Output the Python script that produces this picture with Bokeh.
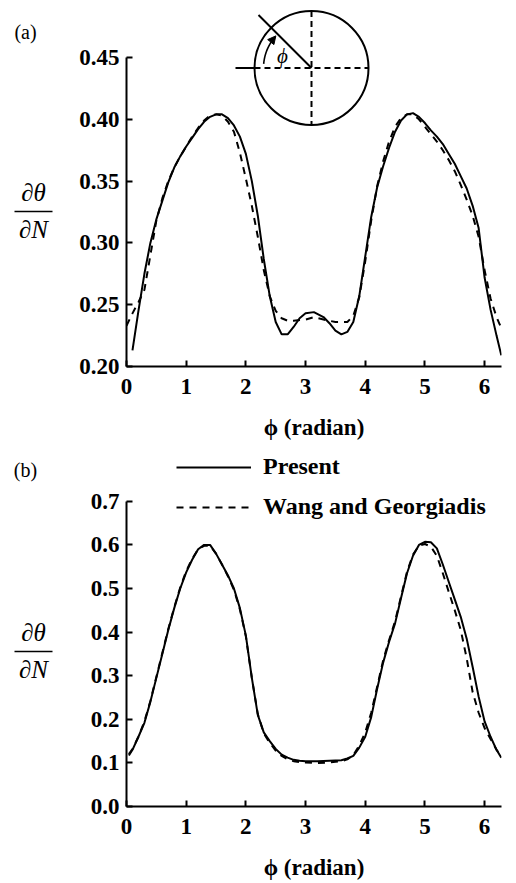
import numpy as np
from bokeh.plotting import figure
from bokeh.models import Range1d, FixedTicker, Label, Arrow, NormalHead, Legend, LegendItem
from bokeh.layouts import column, row
from bokeh.embed import file_html
from bokeh.resources import INLINE
from bokeh.core.properties import value

# ---------------- data ----------------
phi_present_a = [0.10, 0.20, 0.30, 0.40, 0.50, 0.60, 0.70, 0.80, 0.90, 1.00, 1.10, 1.20, 1.30, 1.40,
                 1.50, 1.60, 1.70, 1.80, 1.90, 2.00, 2.10, 2.20, 2.30, 2.40, 2.50, 2.60, 2.70, 2.80,
                 2.90, 3.00, 3.14, 3.30, 3.40, 3.50, 3.60, 3.70, 3.80, 3.90, 4.00, 4.10, 4.20, 4.30,
                 4.40, 4.50, 4.60, 4.70, 4.80, 4.90, 5.00, 5.10, 5.20, 5.30, 5.40, 5.50, 5.60, 5.70,
                 5.80, 5.90, 6.00, 6.10, 6.20, 6.28]
present_a = [0.213, 0.245, 0.275, 0.300, 0.319, 0.334, 0.349, 0.361, 0.370, 0.378, 0.385, 0.392, 0.398, 0.402,
             0.404, 0.404, 0.401, 0.395, 0.386, 0.372, 0.350, 0.322, 0.287, 0.257, 0.236, 0.226, 0.226, 0.232,
             0.239, 0.243, 0.244, 0.240, 0.235, 0.229, 0.226, 0.228, 0.236, 0.257, 0.289, 0.321, 0.345, 0.362,
             0.377, 0.390, 0.399, 0.404, 0.405, 0.402, 0.397, 0.391, 0.386, 0.380, 0.372, 0.364, 0.354, 0.344,
             0.330, 0.312, 0.272, 0.246, 0.225, 0.209]

phi_wang_a = [0.00, 0.10, 0.20, 0.30, 0.40, 0.50, 0.60, 0.70, 0.80, 0.90, 1.00, 1.10, 1.20, 1.30, 1.40,
              1.50, 1.60, 1.70, 1.80, 1.90, 2.00, 2.10, 2.20, 2.30, 2.40, 2.50, 2.60, 2.70, 2.80, 3.00,
              3.14, 3.30, 3.50, 3.70, 3.80, 3.90, 4.00, 4.10, 4.20, 4.30, 4.40, 4.50, 4.60, 4.70, 4.80,
              4.90, 5.00, 5.10, 5.20, 5.30, 5.40, 5.50, 5.60, 5.70, 5.80, 5.90, 6.00, 6.10, 6.20, 6.28]
wang_a = [0.233, 0.243, 0.252, 0.262, 0.290, 0.318, 0.336, 0.350, 0.361, 0.370, 0.378, 0.386, 0.393, 0.399, 0.403,
          0.404, 0.403, 0.398, 0.390, 0.373, 0.352, 0.330, 0.305, 0.278, 0.257, 0.245, 0.239, 0.237, 0.237, 0.238,
          0.240, 0.238, 0.236, 0.236, 0.241, 0.256, 0.285, 0.318, 0.346, 0.366, 0.382, 0.394, 0.401, 0.404, 0.404,
          0.400, 0.394, 0.388, 0.382, 0.375, 0.367, 0.358, 0.347, 0.335, 0.322, 0.305, 0.278, 0.255, 0.240, 0.231]

phi_b = [0.04, 0.10, 0.20, 0.30, 0.40, 0.50, 0.60, 0.70, 0.80, 0.90, 1.00, 1.10, 1.20, 1.30, 1.40,
         1.50, 1.60, 1.70, 1.80, 1.90, 2.00, 2.10, 2.20, 2.30, 2.40, 2.50, 2.60, 2.70, 2.80, 2.90,
         3.00, 3.20, 3.40, 3.60, 3.70, 3.80, 3.90, 4.00, 4.10, 4.20, 4.30, 4.40, 4.50, 4.60, 4.70,
         4.80, 4.90, 5.00, 5.10, 5.20, 5.30, 5.40, 5.50, 5.60, 5.70, 5.80, 5.90, 6.00, 6.10, 6.20, 6.28]
present_b = [0.117, 0.130, 0.160, 0.192, 0.240, 0.295, 0.350, 0.405, 0.455, 0.500, 0.537, 0.566, 0.590, 0.600, 0.600,
             0.580, 0.555, 0.530, 0.500, 0.455, 0.392, 0.295, 0.210, 0.170, 0.150, 0.132, 0.119, 0.112, 0.107, 0.105,
             0.104, 0.104, 0.105, 0.106, 0.110, 0.116, 0.135, 0.160, 0.205, 0.270, 0.330, 0.378, 0.420, 0.478, 0.535,
             0.575, 0.600, 0.607, 0.606, 0.592, 0.555, 0.515, 0.475, 0.435, 0.385, 0.320, 0.252, 0.195, 0.160, 0.130, 0.112]
wang_b = [0.120, 0.132, 0.160, 0.195, 0.242, 0.297, 0.352, 0.407, 0.457, 0.502, 0.540, 0.568, 0.590, 0.598, 0.598,
          0.580, 0.555, 0.528, 0.497, 0.452, 0.390, 0.295, 0.212, 0.168, 0.146, 0.128, 0.116, 0.108, 0.104, 0.102,
          0.101, 0.100, 0.101, 0.104, 0.108, 0.118, 0.140, 0.170, 0.215, 0.275, 0.335, 0.382, 0.425, 0.482, 0.538,
          0.578, 0.598, 0.602, 0.596, 0.575, 0.535, 0.492, 0.450, 0.405, 0.340, 0.262, 0.215, 0.180, 0.155, 0.130, 0.115]

x_ticks = [0, 1, 2, 3, 4, 5, 6]
a_y_ticks = [0.20, 0.25, 0.30, 0.35, 0.40, 0.45]
a_y_labels = ["0.20", "0.25", "0.30", "0.35", "0.40", "0.45"]
b_y_ticks = [0.0, 0.1, 0.2, 0.3, 0.4, 0.5, 0.6, 0.7]
b_y_labels = ["0.0", "0.1", "0.2", "0.3", "0.4", "0.5", "0.6", "0.7"]
series_names = ["Present", "Wang and Georgiadis"]
panel_tags = ["(a)", "(b)"]
x_title = "\u03d5 (radian)"
y_title_top = "\u2202\u03b8"
y_title_bottom = "\u2202N"

# ---------------- layout (page pixels) ----------------
SERIF = "Liberation Serif"
SIDE_W = 60                     # small text-only figure on the left of each panel
MAIN_W = 450
BL = 66                         # frame left of each panel at page x = 126
FRAME_W = 375
BR = MAIN_W - BL - FRAME_W
TWO_PI = 2 * np.pi
XS = FRAME_W / TWO_PI           # px per radian
FRAME_LEFT_PAGE = SIDE_W + BL

A_H, A_TOP, A_BOT = 445, 4, 79
A_FH = A_H - A_TOP - A_BOT
A_YS = 1236.0                   # px per unit (panel a)
B_H, B_TOP, B_BOT = 437, 5, 76
B_FH = B_H - B_TOP - B_BOT
B_YS = 436.0                    # px per unit (panel b)
DASH = "7 6"


def make_fig(h, top, bot, y0, ys, fh, yticks, ylabels, ybounds):
    p = figure(width=MAIN_W, height=h, output_backend="svg", toolbar_location=None,
               x_range=Range1d(0, TWO_PI), y_range=Range1d(y0, y0 + fh / ys),
               min_border_left=BL, min_border_right=BR, min_border_top=top, min_border_bottom=bot)
    p.outline_line_color = None
    p.grid.visible = False
    for ax in (p.xaxis[0], p.yaxis[0]):
        ax.axis_line_width = 2
        ax.axis_line_color = "black"
        ax.major_tick_in = 6
        ax.major_tick_out = 0
        ax.major_tick_line_width = 2
        ax.major_tick_line_color = "black"
        ax.minor_tick_in = 0
        ax.minor_tick_out = 0
        ax.major_label_text_font = SERIF
        ax.major_label_text_font_size = "23px"
        ax.major_label_text_font_style = "bold"
        ax.major_label_text_color = "black"
    p.xaxis.ticker = FixedTicker(ticks=x_ticks)
    p.xaxis.major_label_standoff = 12
    p.xaxis.axis_label = x_title
    p.xaxis.axis_label_text_font = SERIF
    p.xaxis.axis_label_text_font_size = "23px"
    p.xaxis.axis_label_text_font_style = "bold"
    p.xaxis.axis_label_text_color = "black"
    p.xaxis.axis_label_standoff = 18
    p.yaxis.ticker = FixedTicker(ticks=yticks)
    p.yaxis.major_label_overrides = {t: l for t, l in zip(yticks, ylabels)}
    p.yaxis.major_label_standoff = 7
    p.yaxis.bounds = ybounds
    return p


def make_side(h, top, fh, tag, tag_y, frac_y):
    # text-only strip holding the panel tag and the y title fraction.
    # Its frame is aligned with the neighbouring panel's frame, so the y range
    # is expressed in the canvas pixels of that frame (top .. top + fh).
    s = figure(width=SIDE_W, height=h, output_backend="svg", toolbar_location=None,
               x_range=Range1d(0, SIDE_W), y_range=Range1d(top + fh, top),
               x_axis_location=None, y_axis_location=None,
               min_border_left=0, min_border_right=0, min_border_top=top,
               min_border_bottom=h - top - fh)
    s.outline_line_color = None
    s.grid.visible = False
    s.text(x=[25], y=[tag_y], text=[tag], text_font=value(SERIF), text_font_size="20px",
           text_align="center", text_baseline="middle", text_color="black")
    s.text(x=[33], y=[frac_y - 19], text=[y_title_top], text_font=value(SERIF), text_font_size="25px",
           text_font_style="italic", text_align="center", text_baseline="middle", text_color="black")
    s.text(x=[33], y=[frac_y + 18], text=[y_title_bottom], text_font=value(SERIF), text_font_size="25px",
           text_font_style="italic", text_align="center", text_baseline="middle", text_color="black")
    s.segment(x0=[14], y0=[frac_y], x1=[52], y1=[frac_y], line_color="black", line_width=1.5)
    return s


# ---------------- panel (a) ----------------
A_Y0 = 0.20
pa = make_fig(A_H, A_TOP, A_BOT, A_Y0, A_YS, A_FH, a_y_ticks, a_y_labels, (0.20, 0.45))
pa.line(phi_present_a, present_a, line_color="black", line_width=2)
pa.line(phi_wang_a, wang_a, line_color="black", line_width=2, line_dash=DASH)
sa = make_side(A_H, A_TOP, A_FH, panel_tags[0], 31, 211)

# inset sketch of the cylinder and the angle phi (positioned in pixels)
A_FRAME_BOTTOM_PAGE = A_TOP + A_FH
cx = (311 - FRAME_LEFT_PAGE) / XS
cy = A_Y0 + (A_FRAME_BOTTOM_PAGE - 67.5) / A_YS
R = 57.0
ox = lambda d: cx + np.asarray(d) / XS
oy = lambda d: cy + np.asarray(d) / A_YS
pa.scatter([cx], [cy], marker="circle", size=2 * R, fill_color=None, line_color="black", line_width=2)
pa.segment(x0=[cx], y0=[oy(R)], x1=[cx], y1=[oy(-R)], line_color="black", line_width=2, line_dash="6 4")
pa.segment(x0=[ox(-R)], y0=[cy], x1=[ox(R)], y1=[cy], line_color="black", line_width=2, line_dash="6 4")
pa.segment(x0=[ox(-R - 19)], y0=[cy], x1=[ox(-R)], y1=[cy], line_color="black", line_width=2)
pa.segment(x0=[cx], y0=[cy], x1=[ox(-53)], y1=[oy(53)], line_color="black", line_width=2)
ang = np.radians(np.linspace(175, 143, 20))
pa.line(ox(48 * np.cos(ang)), oy(48 * np.sin(ang)), line_color="black", line_width=1.6)
a0, a1 = np.radians(144), np.radians(138)
pa.add_layout(Arrow(end=NormalHead(size=8, fill_color="black", line_color="black", line_width=1),
                    x_start=float(ox(48 * np.cos(a0))), y_start=float(oy(48 * np.sin(a0))),
                    x_end=float(ox(48 * np.cos(a1))), y_end=float(oy(48 * np.sin(a1))),
                    line_width=1.6, line_color="black"))
pa.add_layout(Label(x=float(ox(-29)), y=float(oy(12)), text="\u03d5", text_font=SERIF,
                    text_font_size="21px", text_font_style="italic", text_align="center",
                    text_baseline="middle", text_color="black"))

# ---------------- panel (b) ----------------
B_Y0 = 0.0
pb = make_fig(B_H, B_TOP, B_BOT, B_Y0, B_YS, B_FH, b_y_ticks, b_y_labels, (0.0, 0.7))
r1 = pb.line(phi_b, present_b, line_color="black", line_width=2)
r2 = pb.line(phi_b, wang_b, line_color="black", line_width=2, line_dash=DASH)
sb = make_side(B_H, B_TOP, B_FH, panel_tags[1], 24, 206)

legend = Legend(items=[LegendItem(label=series_names[0], renderers=[r1]),
                       LegendItem(label=series_names[1], renderers=[r2])],
                location=(50, 286), orientation="vertical",
                glyph_width=75, glyph_height=26, label_height=26, spacing=13,
                label_standoff=12, padding=0, margin=0,
                border_line_color=None, background_fill_alpha=0,
                label_text_font=SERIF, label_text_font_size="24px",
                label_text_font_style="bold", label_text_color="black")
pb.add_layout(legend)

layout = column(row(sa, pa), row(sb, pb))
open("out.html", "w").write(file_html(layout, INLINE))
